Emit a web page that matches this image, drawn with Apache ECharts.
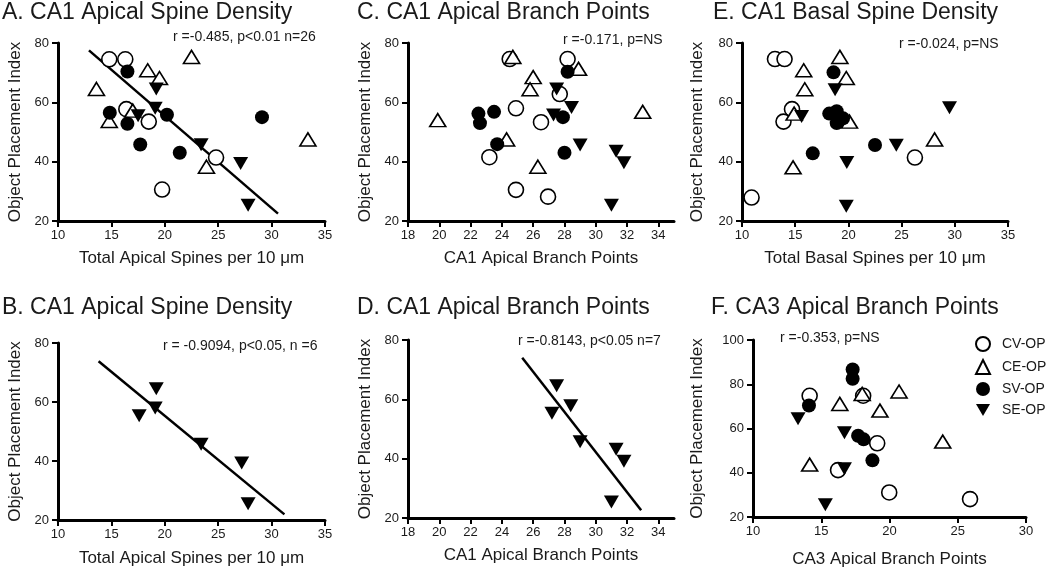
<!DOCTYPE html>
<html>
<head>
<meta charset="utf-8">
<script src="https://cdn.jsdelivr.net/npm/echarts@6/dist/echarts.min.js"></script>
<style>
  html, body { margin: 0; padding: 0; background: #fff; }
  #chart-container { width: 1050px; height: 569px; }
</style>
</head>
<body>
<div id="chart-container"></div>
<script>
// group names
var groups = ["CV-OP", "CE-OP", "SV-OP", "SE-OP"];

// A. CA1 apical spine density (all groups)
var aCV = [[14.8, 74.5], [16.3, 74.5], [16.4, 57.7], [18.5, 53.5], [24.8, 41.4], [19.75, 30.6]];
var aCE = [[17.0, 57.2], [13.6, 64.5], [14.8, 53.7], [18.4, 70.8], [19.5, 68.2], [22.5, 75.3], [23.9, 38.3], [33.4, 47.5]];
var aSV = [[16.5, 70.4], [14.85, 56.5], [16.5, 52.8], [17.7, 45.8], [20.2, 55.8], [21.4, 43], [29.1, 55]];
var aSE = [[19.2, 64.5], [19.1, 58], [17.5, 55.5], [23.4, 45.7], [27.1, 39.4], [27.8, 25.3]];
var aFit = [[12.9, 77.5], [30.6, 22.5]];

// B. CA1 apical spine density (SE-OP only)
var bSE = [[17.6, 55.3], [19.2, 64.5], [19.1, 58], [23.4, 45.7], [27.2, 39.3], [27.8, 25.5]];
var bFit = [[13.8, 73.8], [31.2, 21.9]];

// C. CA1 apical branch points
var cCV = [[24.5, 74.6], [28.2, 74.6], [27.7, 62.8], [24.9, 58], [26.5, 53.3], [23.2, 41.5], [24.9, 30.5], [26.95, 28.2]];
var cCE = [[19.9, 54], [24.7, 75.3], [26.0, 68.5], [25.8, 64.4], [28.9, 71.3], [24.3, 47.5], [26.3, 38.3], [33.0, 56.8]];
var cSV = [[22.5, 56.2], [22.6, 53], [23.5, 56.8], [23.7, 45.9], [28.2, 70.3], [27.9, 55], [28.0, 43]];
var cSE = [[27.5, 64.5], [28.45, 58.3], [27.3, 55.7], [29.0, 45.6], [31.3, 43.5], [31.8, 39.6], [31.0, 25.3]];

// D. CA1 apical branch points (SE-OP only)
var dSE = [[27.5, 64.6], [27.2, 55.3], [28.4, 57.8], [29.0, 45.7], [31.3, 43.2], [31.8, 39.1], [31.0, 25.4]];
var dFit = [[25.3, 74.0], [32.9, 22.6]];

// E. CA1 basal spine density
var eCV = [[13.1, 74.6], [14.0, 74.6], [14.7, 57.7], [13.9, 53.5], [26.25, 41.4], [10.9, 27.9]];
var eCE = [[19.2, 75.3], [15.8, 70.8], [15.9, 64.4], [19.8, 68.2], [14.9, 56.2], [20.1, 53.5], [14.8, 38.1], [28.1, 47.5]];
var eSV = [[18.6, 70.1], [18.2, 56.2], [18.9, 57], [18.9, 53], [19.5, 54.6], [16.65, 42.8], [22.5, 45.6]];
var eSE = [[18.75, 64.2], [15.6, 55.2], [29.5, 58.2], [19.85, 39.7], [24.5, 45.5], [19.8, 25]];

// F. CA3 apical branch points
var fCV = [[14.15, 74.8], [16.23, 41.2], [18.07, 74.8], [19.1, 53.3], [19.98, 31.1], [25.9, 28.1]];
var fCE = [[14.15, 43.7], [16.36, 71.1], [18.0, 75.6], [19.3, 68.1], [20.7, 76.7], [23.9, 54.1]];
var fSV = [[17.3, 86.7], [17.3, 82.5], [14.1, 70.4], [17.7, 56.7], [18.1, 55.1], [18.75, 45.6]];
var fSE = [[13.3, 64.4], [16.7, 58.1], [16.7, 41.8], [15.3, 25.5]];

// axis ticks
var xTicksSpine = [10, 15, 20, 25, 30, 35];
var xTicksBranch = [18, 20, 22, 24, 26, 28, 30, 32, 34];
var xTicksCA3 = [10, 15, 20, 25, 30];
var yTicks = [20, 40, 60, 80];
var yTicksF = [20, 40, 60, 80, 100];

// panel texts
var panelTitles = [
  "A. CA1 Apical Spine Density", "B. CA1 Apical Spine Density",
  "C. CA1 Apical Branch Points", "D. CA1 Apical Branch Points",
  "E. CA1 Basal Spine Density", "F. CA3 Apical Branch Points"
];
var statTexts = [
  "r =-0.485, p<0.01 n=26", "r = -0.9094, p<0.05, n =6",
  "r =-0.171, p=NS", "r =-0.8143, p<0.05 n=7",
  "r =-0.024, p=NS", "r =-0.353, p=NS"
];

var FONT = "Liberation Sans, Arial, sans-serif";
var DOWN_TRI = "path://M0,0 L20,0 L10,17 Z";

var dom = document.getElementById("chart-container");
var myChart = echarts.init(dom, null, { renderer: "canvas" });

var grids = [
  { left: 58, top: 43, width: 267, height: 178 },
  { left: 58, top: 343, width: 267, height: 177 },
  { left: 408, top: 43, width: 266, height: 178 },
  { left: 408, top: 340, width: 266, height: 178 },
  { left: 742, top: 43, width: 266, height: 178 },
  { left: 753, top: 340, width: 273, height: 180 }
];

function xAxis(i, min, max, ticks, name, gap) {
  return {
    type: "value", gridIndex: i, min: min, max: max,
    name: name, nameLocation: "middle", nameGap: gap,
    nameTextStyle: { fontFamily: FONT, fontSize: 17, color: "#1a1a1a" },
    axisLine: { lineStyle: { color: "#000", width: 3 } },
    axisTick: { length: 6, lineStyle: { color: "#000", width: 2 }, customValues: ticks },
    axisLabel: { fontFamily: FONT, fontSize: 13, color: "#1a1a1a", margin: 8, customValues: ticks },
    splitLine: { show: false }
  };
}

function yAxis(i, min, max, ticks, gap) {
  return {
    type: "value", gridIndex: i, min: min, max: max,
    name: "Object Placement Index", nameLocation: "middle", nameGap: gap,
    nameTextStyle: { fontFamily: FONT, fontSize: 17, color: "#1a1a1a" },
    axisLine: { lineStyle: { color: "#000", width: 3 } },
    axisTick: { length: 6, lineStyle: { color: "#000", width: 2 }, customValues: ticks },
    axisLabel: { fontFamily: FONT, fontSize: 13, color: "#1a1a1a", margin: 9, customValues: ticks },
    splitLine: { show: false }
  };
}

function pts(name, data, i) {
  var s = {
    type: "scatter", name: name, data: data, xAxisIndex: i, yAxisIndex: i,
    silent: true
  };
  if (name === "CV-OP") {
    s.symbol = "circle"; s.symbolSize = 15;
    s.itemStyle = { color: "#fff", borderColor: "#000", borderWidth: 1.6, opacity: 1 };
  } else if (name === "CE-OP") {
    s.symbol = "triangle"; s.symbolSize = [16, 13];
    s.itemStyle = { color: "#fff", borderColor: "#000", borderWidth: 1.6, opacity: 1 };
  } else if (name === "SV-OP") {
    s.symbol = "circle"; s.symbolSize = 14;
    s.itemStyle = { color: "#000", opacity: 1 };
  } else {
    s.symbol = DOWN_TRI; s.symbolSize = [15, 13];
    s.itemStyle = { color: "#000", opacity: 1 };
  }
  return s;
}

function fit(data, i) {
  return {
    type: "line", data: data, xAxisIndex: i, yAxisIndex: i,
    symbol: "none", silent: true, z: 1,
    lineStyle: { color: "#000", width: 2.5 }
  };
}

var titles = [];
var titlePos = [[2, 1], [2, 296], [357, 1], [357, 296], [713, 1], [711, 296]];
panelTitles.forEach(function (t, i) {
  titles.push({
    text: t, left: titlePos[i][0], top: titlePos[i][1], padding: 0,
    textStyle: { fontFamily: FONT, fontSize: 23, fontWeight: "normal", color: "#1a1a1a" }
  });
});
var statPos = [[173, 30], [163, 339], [563, 33], [518, 334], [899, 37], [780, 331]];
statTexts.forEach(function (t, i) {
  titles.push({
    text: t, left: statPos[i][0], top: statPos[i][1], padding: 0,
    textStyle: { fontFamily: FONT, fontSize: 14, fontWeight: "normal", color: "#1a1a1a" }
  });
});

var option = {
  backgroundColor: "#fff",
  animation: false,
  title: titles,
  grid: grids,
  legend: {
    data: [
      { name: "CV-OP" },
      { name: "CE-OP" },
      { name: "SV-OP" },
      { name: "SE-OP", icon: DOWN_TRI }
    ],
    orient: "vertical", left: 975, top: 336, padding: 0,
    itemWidth: 14, itemHeight: 14, itemGap: 7,
    textStyle: { fontFamily: FONT, fontSize: 14, color: "#1a1a1a", padding: [0, 0, 0, 7] }
  },
  xAxis: [
    xAxis(0, 10, 35, xTicksSpine, "Total Apical Spines per 10 μm", 29),
    xAxis(1, 10, 35, xTicksSpine, "Total Apical Spines per 10 μm", 30),
    xAxis(2, 18, 35, xTicksBranch, "CA1 Apical Branch Points", 29),
    xAxis(3, 18, 35, xTicksBranch, "CA1 Apical Branch Points", 29),
    xAxis(4, 10, 35, xTicksSpine, "Total Basal Spines per 10 μm", 29),
    xAxis(5, 10, 30, xTicksCA3, "CA3 Apical Branch Points", 34)
  ],
  yAxis: [
    yAxis(0, 20, 80, yTicks, 34),
    yAxis(1, 20, 80, yTicks, 34),
    yAxis(2, 20, 80, yTicks, 34),
    yAxis(3, 20, 80, yTicks, 34),
    yAxis(4, 20, 80, yTicks, 36),
    yAxis(5, 20, 100, yTicksF, 47)
  ],
  series: [
    fit(aFit, 0),
    pts("CV-OP", aCV, 0), pts("CE-OP", aCE, 0), pts("SV-OP", aSV, 0), pts("SE-OP", aSE, 0),
    fit(bFit, 1),
    pts("SE-OP", bSE, 1),
    pts("CV-OP", cCV, 2), pts("CE-OP", cCE, 2), pts("SV-OP", cSV, 2), pts("SE-OP", cSE, 2),
    fit(dFit, 3),
    pts("SE-OP", dSE, 3),
    pts("CV-OP", eCV, 4), pts("CE-OP", eCE, 4), pts("SV-OP", eSV, 4), pts("SE-OP", eSE, 4),
    pts("CV-OP", fCV, 5), pts("CE-OP", fCE, 5), pts("SV-OP", fSV, 5), pts("SE-OP", fSE, 5)
  ]
};

myChart.setOption(option);
window.addEventListener("resize", myChart.resize);
</script>
</body>
</html>
